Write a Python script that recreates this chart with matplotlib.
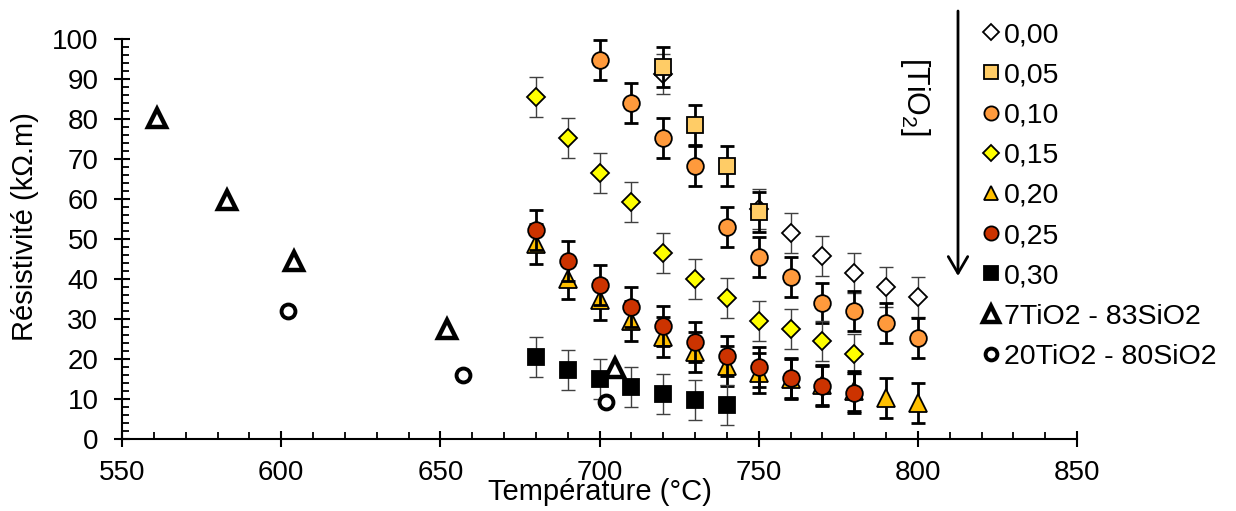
import matplotlib
matplotlib.use("Agg")
import matplotlib.pyplot as plt
from matplotlib.ticker import MultipleLocator

plt.rcParams['font.family'] = ['Liberation Sans', 'DejaVu Sans']
plt.rcParams['mathtext.fontset'] = 'custom'
plt.rcParams['mathtext.rm'] = 'Liberation Sans'
plt.rcParams['mathtext.it'] = 'Liberation Sans'

# Résistivité (kOhm.m) vs température, série par teneur en TiO2
temp_000 = [720, 750, 760, 770, 780, 790, 800]
res_000 = [91.3, 57.5, 51.5, 45.7, 41.5, 38.0, 35.5]

temp_005 = [720, 730, 740, 750]
res_005 = [93.0, 78.5, 68.3, 56.8]

temp_010 = [700, 710, 720, 730, 740, 750, 760, 770, 780, 790, 800]
res_010 = [94.7, 84.0, 75.2, 68.2, 53.0, 45.5, 40.5, 34.0, 32.0, 29.0, 25.2]

temp_015 = [680, 690, 700, 710, 720, 730, 740, 750, 760, 770, 780]
res_015 = [85.5, 75.2, 66.5, 59.3, 46.5, 40.0, 35.2, 29.5, 27.6, 24.6, 21.2]

temp_020 = [680, 690, 700, 710, 720, 730, 740, 750, 760, 770, 780, 790, 800]
res_020 = [48.8, 40.0, 34.8, 29.5, 25.6, 21.8, 18.3, 16.4, 15.0, 13.5, 12.0, 10.2, 8.9]

temp_025 = [680, 690, 700, 710, 720, 730, 740, 750, 760, 770, 780]
res_025 = [52.3, 44.6, 38.4, 33.0, 28.2, 24.3, 20.8, 18.0, 15.2, 13.2, 11.4]

temp_030 = [680, 690, 700, 710, 720, 730, 740]
res_030 = [20.5, 17.2, 15.0, 13.0, 11.2, 9.8, 8.5]

temp_7ti = [561, 583, 604, 652, 705]
res_7ti = [80.3, 59.8, 44.5, 27.5, 17.8]

temp_20ti = [602, 657, 702]
res_20ti = [32.0, 16.0, 9.3]

err = 5.0

labels = ['0,00', '0,05', '0,10', '0,15', '0,20', '0,25', '0,30']
temps = [temp_000, temp_005, temp_010, temp_015, temp_020, temp_025, temp_030]
values = [res_000, res_005, res_010, res_015, res_020, res_025, res_030]
markers = ['D', 's', 'o', 'D', '^', 'o', 's']
colors = ['white', '#FFCC66', '#FF9A3C', '#FFFF00', '#FFC000', '#CC3300', 'black']
sizes = [9, 12, 12, 9, 12.5, 12, 12]
err_lw = [1.0, 2.0, 2.0, 1.0, 2.0, 2.0, 1.0]
err_col = ['#404040', 'black', 'black', '#404040', 'black', 'black', '#404040']

fig = plt.figure(figsize=(12.36, 5.11), dpi=100)
ax = fig.add_axes([122 / 1236, 72 / 511, 955 / 1236, 400 / 511])

handles = []
for i in range(len(labels)):
    ax.errorbar(temps[i], values[i], yerr=err, fmt='none',
                ecolor=err_col[i], elinewidth=err_lw[i], capsize=5,
                capthick=err_lw[i], zorder=2 + 2 * i)
    h, = ax.plot(temps[i], values[i], linestyle='none', marker=markers[i],
                 markersize=sizes[i], markerfacecolor=colors[i],
                 markeredgecolor='black', markeredgewidth=1.3,
                 zorder=3 + 2 * i, label=labels[i])
    handles.append(h)

h, = ax.plot(temp_7ti, res_7ti, linestyle='none', marker='^', markersize=13.5,
             markerfacecolor='white', markeredgecolor='black',
             markeredgewidth=3.2, zorder=20, label='7TiO2 - 83SiO2')
handles.append(h)
h, = ax.plot(temp_20ti, res_20ti, linestyle='none', marker='o', markersize=10,
             markerfacecolor='white', markeredgecolor='black',
             markeredgewidth=2.8, zorder=20, label='20TiO2 - 80SiO2')
handles.append(h)

ax.set_xlim(550, 850)
ax.set_ylim(0, 100)
ax.xaxis.set_major_locator(MultipleLocator(50))
ax.xaxis.set_minor_locator(MultipleLocator(10))
ax.yaxis.set_major_locator(MultipleLocator(10))
ax.yaxis.set_minor_locator(MultipleLocator(2))

for s in ['top', 'right']:
    ax.spines[s].set_visible(False)
for s in ['left', 'bottom']:
    ax.spines[s].set_linewidth(1.5)

ax.tick_params(which='major', direction='inout', length=12, width=1.5,
               labelsize=20)
ax.tick_params(axis='x', which='major', pad=9)
ax.tick_params(axis='y', which='major', pad=11)
ax.tick_params(which='minor', direction='in', length=5, width=1.3)

ax.set_xlabel('Température (°C)', fontsize=21, labelpad=-6)
ax.set_ylabel('Résistivité (kΩ.m)', fontsize=21)
ax.yaxis.set_label_coords(-0.087, 0.53)

leg = ax.legend(handles=handles, loc='upper left',
                bbox_to_anchor=(980 / 1236, 1 - 22 / 511),
                bbox_transform=fig.transFigure, frameon=False, fontsize=20.5,
                handlelength=0.8, handletextpad=0.05, labelspacing=0.5,
                borderpad=0, borderaxespad=0, markerscale=0.85)

ax.annotate('', xy=(958 / 1236, 1 - 276 / 511), xytext=(958 / 1236, 1 - 11 / 511),
            xycoords='figure fraction', textcoords='figure fraction',
            arrowprops=dict(arrowstyle='->,head_length=0.6,head_width=0.35',
                            lw=2, color='black', mutation_scale=20,
                            shrinkA=0, shrinkB=0),
            annotation_clip=False)
fig.text(915 / 1236, 1 - 97 / 511, '[TiO$_2$]', rotation=-90, fontsize=22,
         ha='center', va='center')

fig.savefig('out.png', dpi=100)
